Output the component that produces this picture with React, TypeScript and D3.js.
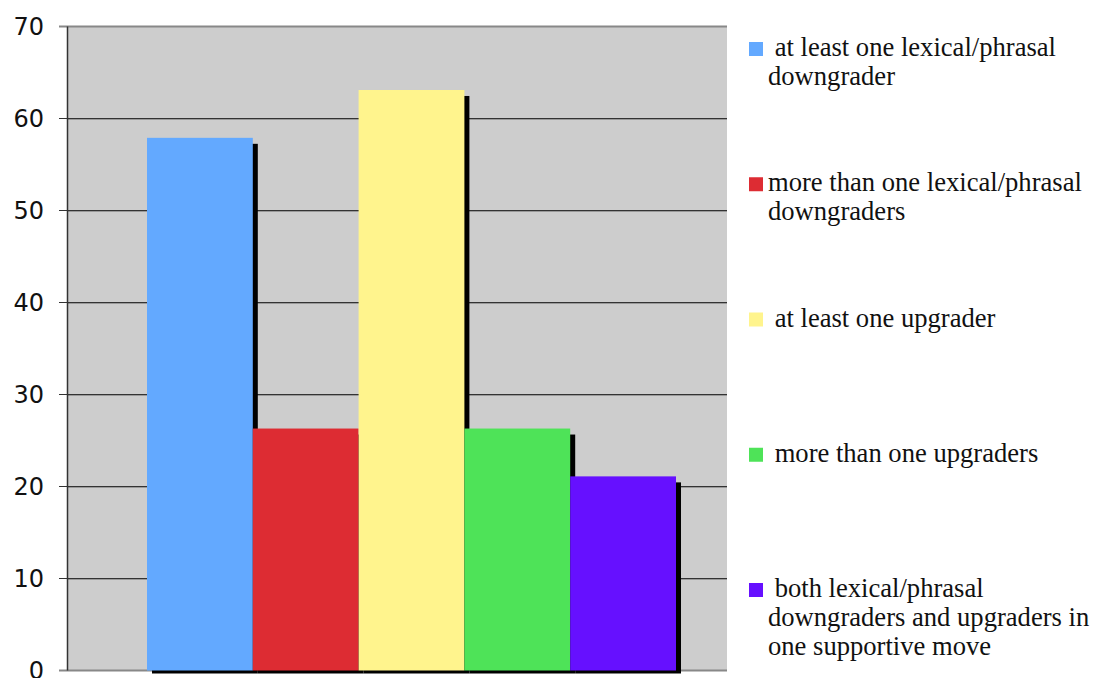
import { FC, useEffect, useRef } from "react";
import * as d3 from "d3";

const categories = [
  " at least one lexical/phrasal|downgrader",
  "more than one lexical/phrasal|downgraders",
  " at least one upgrader",
  " more than one upgraders",
  " both lexical/phrasal|downgraders and upgraders in|one supportive move",
];
const values = [57.9, 26.3, 63.1, 26.3, 21.1];
const colors = ["#63a9ff", "#dd2c33", "#fff48d", "#4ee358", "#6610ff"];
const yTicks = [0, 10, 20, 30, 40, 50, 60, 70];

const W = 1093, H = 678;
const plot = { left: 67, right: 727, top: 26.5, bottom: 670.5 };
const barsRange: [number, number] = [147, 676];
const shadow = { dx: 5, dy: 6 };

const App: FC = () => {
  const ref = useRef<SVGSVGElement>(null);

  useEffect(() => {
    const svg = d3.select(ref.current);
    svg.selectAll("*").remove();

    const y = d3.scaleLinear().domain([0, 70]).range([plot.bottom, plot.top]);
    const x = d3.scaleBand().domain(categories).range(barsRange).padding(0);

    // plot background
    svg.append("rect")
      .attr("x", plot.left)
      .attr("y", plot.top)
      .attr("width", plot.right - plot.left)
      .attr("height", plot.bottom - plot.top)
      .attr("fill", "#cdcdcd");

    // gridlines
    yTicks.forEach((t) => {
      const edge = t === 0 || t === 70;
      svg.append("line")
        .attr("x1", plot.left - 8)
        .attr("x2", plot.right)
        .attr("y1", y(t))
        .attr("y2", y(t))
        .attr("stroke", edge ? "#888" : "#333")
        .attr("stroke-width", edge ? 2 : 1);
      if (!edge) {
        svg.append("line")
          .attr("x1", plot.left)
          .attr("x2", plot.right)
          .attr("y1", y(t) + 1)
          .attr("y2", y(t) + 1)
          .attr("stroke", "#999")
          .attr("stroke-width", 1);
      }
    });

    // y axis line
    svg.append("line")
      .attr("x1", plot.left + 0.5)
      .attr("x2", plot.left + 0.5)
      .attr("y1", plot.top)
      .attr("y2", plot.bottom)
      .attr("stroke", "#333")
      .attr("stroke-width", 1.5);

    // tick labels
    svg.append("g")
      .selectAll("text")
      .data(yTicks)
      .join("text")
      .attr("x", 44)
      .attr("y", (d) => y(d))
      .attr("dy", "0.36em")
      .attr("text-anchor", "end")
      .style("font-family", "'DejaVu Sans', sans-serif")
      .style("font-size", "24px")
      .attr("fill", "#111")
      .text((d) => d);

    // bars with shadows, drawn in order so each bar covers previous shadow
    categories.forEach((c, i) => {
      const bx = x(c) as number;
      const bw = x.bandwidth();
      const top = y(values[i]);
      svg.append("rect")
        .attr("x", bx + shadow.dx)
        .attr("y", top + shadow.dy)
        .attr("width", bw)
        .attr("height", plot.bottom + 3 - (top + shadow.dy))
        .attr("fill", "#000");
      svg.append("rect")
        .attr("x", bx)
        .attr("y", top)
        .attr("width", bw)
        .attr("height", plot.bottom - top)
        .attr("fill", colors[i]);
    });

    // legend
    const legend = svg.append("g");
    categories.forEach((c, i) => {
      const base = 56 + i * 135.25;
      legend.append("rect")
        .attr("x", 749)
        .attr("y", base - 14)
        .attr("width", 14)
        .attr("height", 14)
        .attr("fill", colors[i]);
      const txt = legend.append("text")
        .attr("font-family", "Liberation Serif")
        .attr("font-size", 26.6)
        .attr("xml:space", "preserve")
        .attr("fill", "#111");
      c.split("|").forEach((line, j) => {
        txt.append("tspan")
          .attr("x", 768)
          .attr("y", base + j * 29)
          .text(line);
      });
    });
  }, []);

  return (
    <svg
      ref={ref}
      width={W}
      height={H}
      style={{ position: "absolute", left: 0, top: 0, background: "#fff" }}
    />
  );
};

export default App;
